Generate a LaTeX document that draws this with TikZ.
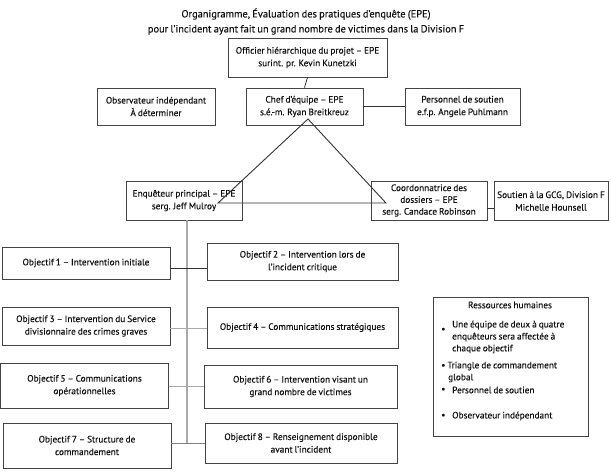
\documentclass[tikz,border=0pt]{standalone}
\usepackage{fontspec}
\setmainfont{PT Sans}[WordSpace=0.8, FakeBold=0.15]
\definecolor{boxc}{HTML}{444444}
\definecolor{darkl}{HTML}{333333}
\definecolor{grayl}{HTML}{AAAAAA}
\definecolor{txtc}{HTML}{111111}
\newcommand{\fs}{\fontsize{9.3}{12.6}\selectfont}
\begin{document}
\begin{tikzpicture}[x=1pt,y=-1pt,
  box/.style={draw=boxc, line width=0.8pt, rectangle, inner sep=1pt, align=center, font=\fs, fill=white, text=txtc},
  conn/.style={draw=darkl, line width=0.8pt},
  gconn/.style={draw=grayl, line width=1.4pt},
  txt/.style={font=\fs, inner sep=0pt, anchor=west, text=txtc},
  ttl/.style={font=\fontsize{10.4}{15}\selectfont, align=center, inner sep=0pt, text=txtc}]
\useasboundingbox (0,0) rectangle (611,472);
% title
\node[ttl] (title) at (306,21.5) {Organigramme, Évaluation des pratiques d’enquête (EPE)\\pour l’incident ayant fait un grand nombre de victimes dans la Division F};
% top boxes
\node[box, minimum width=159pt, minimum height=39pt] (top) at (307.5,57.5) {Officier hiérarchique du projet – EPE\\surint. pr. Kevin Kunetzki};
\node[box, minimum width=118pt, minimum height=37pt] (obs) at (156,106.5) {Observateur indépendant\\À déterminer};
\node[box, minimum width=117pt, minimum height=37pt] (chef) at (304.5,106.5) {Chef d’équipe – EPE\\s.é.-m. Ryan Breitkreuz};
\node[box, minimum width=115pt, minimum height=37pt] (pers) at (462.5,106.5) {Personnel de soutien\\e.f.p. Angele Puhlmann};
\node[box, minimum width=116pt, minimum height=39pt] (enq) at (184,200.5) {Enquêteur principal – EPE\\serg. Jeff Mulroy};
\node[box, minimum width=116pt, minimum height=39pt, font=\fontsize{9.3}{11.8}\selectfont] (coord) at (429,200.5) {Coordonnatrice des\\dossiers – EPE\\serg. Candace Robinson};
\node[box, minimum width=114pt, minimum height=39pt] (sout) at (551,201) {Soutien à la GCG, Division F\\Michelle Hounsell};
% objectives
\node[box, minimum width=168pt, minimum height=32pt] (o1) at (86,263) {Objectif 1 – Intervention initiale};
\node[box, minimum width=191pt, minimum height=37pt] (o2) at (302.5,261.5) {Objectif 2 – Intervention lors de\\l’incident critique};
\node[box, minimum width=168pt, minimum height=38pt] (o3) at (86,326) {Objectif 3 – Intervention du Service\\divisionnaire des crimes graves};
\node[box, minimum width=191pt, minimum height=41pt] (o4) at (302.5,327.5) {Objectif 4 – Communications stratégiques};
\node[box, minimum width=168pt, minimum height=45pt] (o5) at (84.5,385.5) {Objectif 5 – Communications\\opérationnelles};
\node[box, minimum width=193pt, minimum height=43pt] (o6) at (300.5,386.5) {Objectif 6 – Intervention visant un\\grand nombre de victimes};
\node[box, minimum width=168pt, minimum height=45pt] (o7) at (87,445.5) {Objectif 7 – Structure de\\commandement};
\node[box, minimum width=192pt, minimum height=40pt] (o8) at (301,443) {Objectif 8 – Renseignement disponible\\avant l’incident};
% resources
\node[box, minimum width=155pt, minimum height=139pt] (res) at (510.5,366.5) {};
\node[font=\fs, inner sep=0pt, text=txtc] (rt) at (510,305) {Ressources humaines};
\node[txt] (b1) at (441,330) {•};
\node[txt] (r1a) at (452,325) {Une équipe de deux à quatre};
\node[txt] (r1b) at (452,337) {enquêteurs sera affectée à};
\node[txt] (r1c) at (452,349) {chaque objectif};
\node[txt] (r2a) at (441,366) {• Triangle de commandement};
\node[txt] (r2b) at (448,378) {global};
\node[txt] (b3) at (441,390) {•};
\node[txt] (r3) at (452,390) {Personnel de soutien};
\node[txt] (b4) at (441,416) {•};
\node[txt] (r4) at (452,416) {Observateur indépendant};
% helper coordinates
\coordinate (tA) at (308,119);
\coordinate (tL) at (218,203);
\coordinate (tR) at (386,203);
\coordinate (vtop) at (187,220);
\coordinate (vbot) at (187,443);
\coordinate (h1) at (0,268);
\coordinate (h3) at (0,328);
\coordinate (h5) at (0,386);
\coordinate (h7) at (0,443);
\coordinate (hc) at (0,208);
% connectors
\draw[conn] (top.south) -- (chef.north);
\draw[conn] (chef.east) -- (pers.west);
\draw[conn] (coord.east |- hc) -- (sout.west |- hc);
\draw[gconn] (vtop) -- (vbot);
\draw[conn] (o1.east |- h1) -- (o2.west |- h1);
\draw[gconn, line width=1pt] (o3.east |- h3) -- (o4.west |- h3);
\draw[gconn, line width=1pt] (o5.east |- h5) -- (o6.west |- h5);
\draw[gconn, line width=1pt, draw=gray] (o7.east |- h7) -- (o8.west |- h7);
% triangle
\draw[draw=darkl, line width=0.9pt, line join=miter] (tA) -- (tL) -- (tR) -- cycle;
\end{tikzpicture}
\end{document}
